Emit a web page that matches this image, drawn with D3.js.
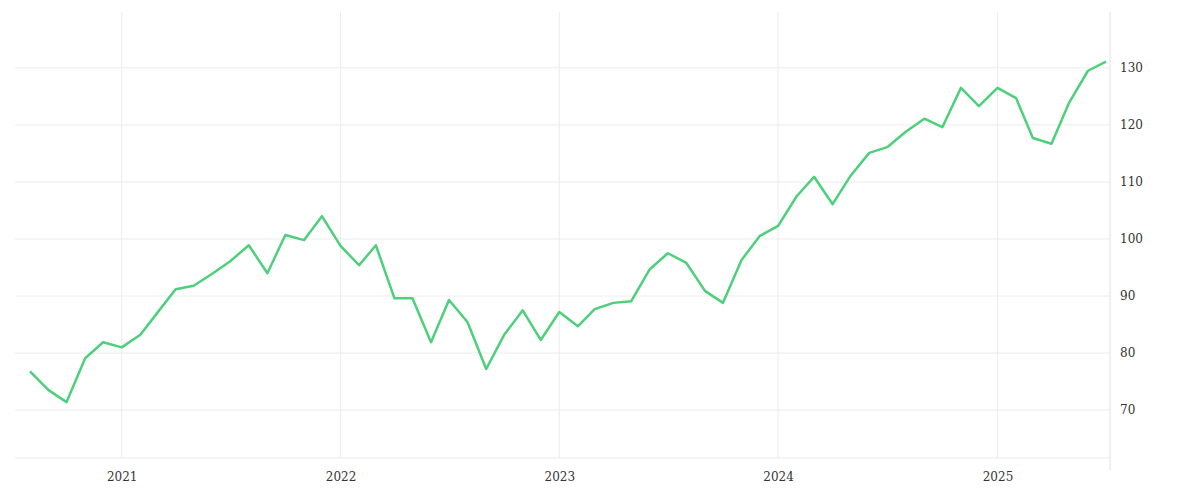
<!DOCTYPE html><html><head><meta charset="utf-8">
<script src="https://cdn.jsdelivr.net/npm/d3@7"></script>
<style>body{margin:0;background:#fff}</style></head><body><svg id="c" width="1200" height="500"></svg>
<script>
const startMonth = "2020-08";
const values = [76.8,73.5,71.4,79.1,81.9,81.0,83.2,87.0,91.2,91.8,93.9,96.1,98.9,94.0,100.7,99.8,104.0,98.8,95.4,98.9,89.6,89.6,81.9,89.3,85.4,77.2,83.2,87.5,82.3,87.2,84.7,87.7,88.8,89.1,94.7,97.5,95.8,90.9,88.8,96.3,100.5,102.3,107.5,110.9,106.1,111.1,115.1,116.1,118.8,121.1,119.6,126.5,123.3,126.5,124.7,117.7,116.7,124.0,129.5,131.1];
const yTicks = [70,80,90,100,110,120,130];
const xTickYears = [2021,2022,2023,2024,2025];

const svg = d3.select("#c");
const L=15,R=1110,T=12,B=458;
const s = new Date(2020,7,1);
const data = values.map((v,i)=>({d:new Date(s.getFullYear(), s.getMonth()+i, 1), v}));
const x = d3.scaleTime().domain([data[0].d, data[data.length-1].d]).range([30,1106]);
const y = d3.scaleLinear().domain([61.6,139.8]).range([B,T]);
const xt = xTickYears.map(yr=>new Date(yr,0,1));
const g = svg.append("g");
g.selectAll(".gx").data(xt).enter().append("line").attr("x1",d=>x(d)).attr("x2",d=>x(d)).attr("y1",T).attr("y2",B).attr("stroke","#ececec");
g.selectAll(".gy").data(yTicks).enter().append("line").attr("x1",L).attr("x2",R).attr("y1",d=>y(d)).attr("y2",d=>y(d)).attr("stroke","#ececec");
g.append("line").attr("x1",L).attr("x2",R).attr("y1",B).attr("y2",B).attr("stroke","#ececec");
g.append("line").attr("x1",R).attr("x2",R).attr("y1",T).attr("y2",470).attr("stroke","#e0e0e0");
const font="DejaVu Serif";
svg.append("g").attr("transform",`translate(0,${B})`).call(d3.axisBottom(x).tickValues(xt).tickFormat(d3.timeFormat("%Y")).tickSize(0).tickPadding(14))
 .call(a=>a.select(".domain").remove()).selectAll("text").attr("font-family",font).attr("font-size",12).attr("fill","#333");
svg.append("g").attr("transform",`translate(${R},0)`).call(d3.axisRight(y).tickValues(yTicks).tickSize(0).tickPadding(10))
 .call(a=>a.select(".domain").remove()).selectAll("text").attr("font-family",font).attr("font-size",12).attr("fill","#333");
svg.append("path").datum(data).attr("fill","none").attr("stroke","#4dd07b").attr("stroke-width",2.5).attr("stroke-linejoin","round")
 .attr("d",d3.line().x(d=>x(d.d)).y(d=>y(d.v)));
</script></body></html>
